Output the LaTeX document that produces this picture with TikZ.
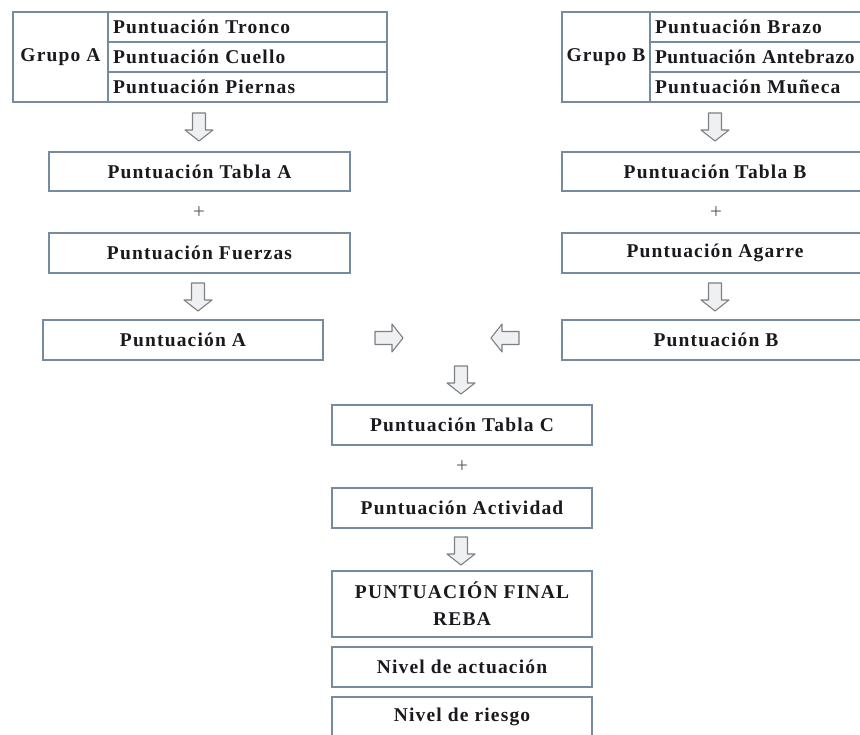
\documentclass[tikz,border=0pt]{standalone}
\usepackage{fontspec}
\setmainfont[LetterSpace=6]{Liberation Serif}
\usetikzlibrary{calc}
\definecolor{boxcol}{RGB}{118,138,160}
\definecolor{arrfill}{RGB}{238,240,242}
\definecolor{arrdraw}{RGB}{125,128,132}
\definecolor{txtcol}{RGB}{25,25,30}
\begin{document}
\begin{tikzpicture}[x=1bp,y=-1bp,
  box/.style={draw=boxcol,line width=1.3bp,inner sep=0pt,text=txtcol,
    font=\fontsize{19.5bp}{27bp}\selectfont\bfseries,align=center},
  rowbox/.style={box,inner xsep=5bp,minimum height=30bp,align=left},
  plussign/.style={text=gray!70!black,font=\fontsize{21bp}{22bp}\selectfont},
  arr/.style={draw=arrdraw,fill=arrfill,line width=1.1bp,line join=round},
  blockarrow/.pic={\draw[arr] (-6.5,-14) -- (6.5,-14) -- (6.5,3) -- (14,3) -- (0,14) -- (-14,3) -- (-6.5,3) -- cycle;}]
\useasboundingbox (0,0) rectangle (860,735);
\clip (0,0) rectangle (860,735);
% Grupo A
\node[box,minimum width=95bp,minimum height=90bp] (ga) at (60.5,57) {Grupo A};
\node[rowbox,text width=269bp] (a1) at (247.5,27) {Puntuación Tronco};
\node[rowbox,text width=269bp] (a2) at (247.5,57) {Puntuación Cuello};
\node[rowbox,text width=269bp] (a3) at (247.5,87) {Puntuación Piernas};
% Grupo B
\node[box,minimum width=88bp,minimum height=90bp] (gb) at (606,57) {Grupo B};
\node[rowbox,text width=250bp] (b1) at (780,27) {Puntuación Brazo};
\node[rowbox,text width=250bp] (b2) at (780,57) {\addfontfeature{LetterSpace=3}Puntuación Antebrazo};
\node[rowbox,text width=250bp] (b3) at (780,87) {Puntuación Muñeca};
% left column
\pic at (199,127) {blockarrow};
\node[box,minimum width=301bp,minimum height=39bp] (ta) at (199.5,171.5) {Puntuación Tabla A};
\node[plussign] (pa1) at (199,213) {+};
\node[box,minimum width=301bp,minimum height=40bp] (fa) at (199.5,253) {Puntuación Fuerzas};
\pic at (198,297) {blockarrow};
\node[box,minimum width=280bp,minimum height=40bp] (pa) at (183,340) {Puntuación A};
% right column
\pic at (715,127) {blockarrow};
\node[box,minimum width=306bp,minimum height=39bp] (tb) at (715,171.5) {Puntuación Tabla B};
\node[plussign] (pb1) at (716,213) {+};
\node[box,minimum width=306bp,minimum height=40bp] (ag) at (715,253) {Puntuación Agarre};
\pic at (715,297) {blockarrow};
\node[box,minimum width=308bp,minimum height=40bp] (pb) at (716,340) {Puntuación B};
% middle
\pic[rotate=90] at (389,338) {blockarrow};
\pic[rotate=-90] at (505,338) {blockarrow};
\pic at (461,380) {blockarrow};
\node[box,minimum width=260bp,minimum height=40bp] (tc) at (462,425) {Puntuación Tabla C};
\node[plussign] (pc1) at (462,467) {+};
\node[box,minimum width=260bp,minimum height=40bp] (act) at (462,508) {Puntuación Actividad};
\pic at (461,551) {blockarrow};
\node[box,minimum width=260bp,minimum height=66bp] (fin) at (462,604) {PUNTUACIÓN FINAL\\REBA};
\node[box,minimum width=260bp,minimum height=40bp] (na) at (462,667) {Nivel de actuación};
\node[box,minimum width=260bp,minimum height=40bp] (nr) at (462,717) {Nivel de riesgo};
\end{tikzpicture}
\end{document}
